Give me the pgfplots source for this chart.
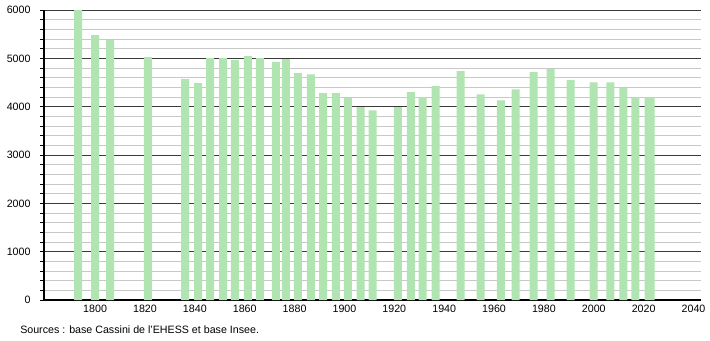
\documentclass[border=0pt]{standalone}
\usepackage{fontspec}
\setmainfont{Liberation Sans}
\usepackage{pgfplots}
\pgfplotsset{compat=1.18}
\definecolor{barg}{HTML}{B0E4B0}
\definecolor{majg}{HTML}{3A3A3A}
\definecolor{ming}{HTML}{C8C8C8}
\begin{document}
\fontsize{8}{9.6}\selectfont
\begin{tikzpicture}
\path (-33pt,-30pt) rectangle (499.5pt,225pt);
\begin{axis}[
  at={(0,0)}, anchor=south west,
  scale only axis,
  width=492.75pt, height=217.5pt,
  xmin=1779.5, xmax=2043,
  ymin=0, ymax=6000,
  axis lines=left,
  axis line style={-, black, line width=0.8pt},
  xtick={1800,1820,...,2040},
  ytick={0,1000,...,6000},
  minor y tick num=4,
  x tick style={draw=none},
  y tick style={black, line width=0.6pt},
  tick align=outside,
  major tick length=3pt,
  minor tick length=3pt,
  ymajorgrids, yminorgrids,
  major grid style={majg, line width=0.75pt},
  minor grid style={ming, line width=0.75pt},
  xticklabel style={yshift=1.9pt, font=\fontsize{8}{9.6}\selectfont},
  yticklabel style={xshift=-4.25pt, font=\fontsize{8}{9.6}\selectfont},
  /pgf/number format/assume math mode=true,
  /pgf/number format/.cd, set thousands separator={}, 1000 sep={},
]
\addplot[ybar, bar width=6pt, fill=barg, draw=none] coordinates {
(1793.2,6000) (1800,5480) (1806,5380) (1821.2,5025) (1836.1,4570) (1841.3,4485)
(1846.1,5005) (1851.3,5005) (1856.1,4965) (1861.3,5045) (1866.1,5005) (1872.5,4925)
(1876.5,4985) (1881.3,4695) (1886.5,4670) (1891.4,4280) (1896.6,4280) (1901.4,4180)
(1906.5,3990) (1911.3,3925) (1921.4,3990) (1926.6,4300) (1931.4,4195) (1936.6,4425)
(1946.6,4735) (1954.6,4255) (1962.7,4130) (1968.7,4360) (1975.9,4715) (1982.7,4780)
(1990.7,4550) (1999.9,4505) (2006.7,4505) (2011.9,4395) (2016.7,4190) (2022.0,4190)
(2022.8,4190)
};
\end{axis}
\node[anchor=base west, inner sep=0pt] at (-18pt,-24.75pt) {Sources : base Cassini de l'EHESS et base Insee.};
\end{tikzpicture}
\end{document}
